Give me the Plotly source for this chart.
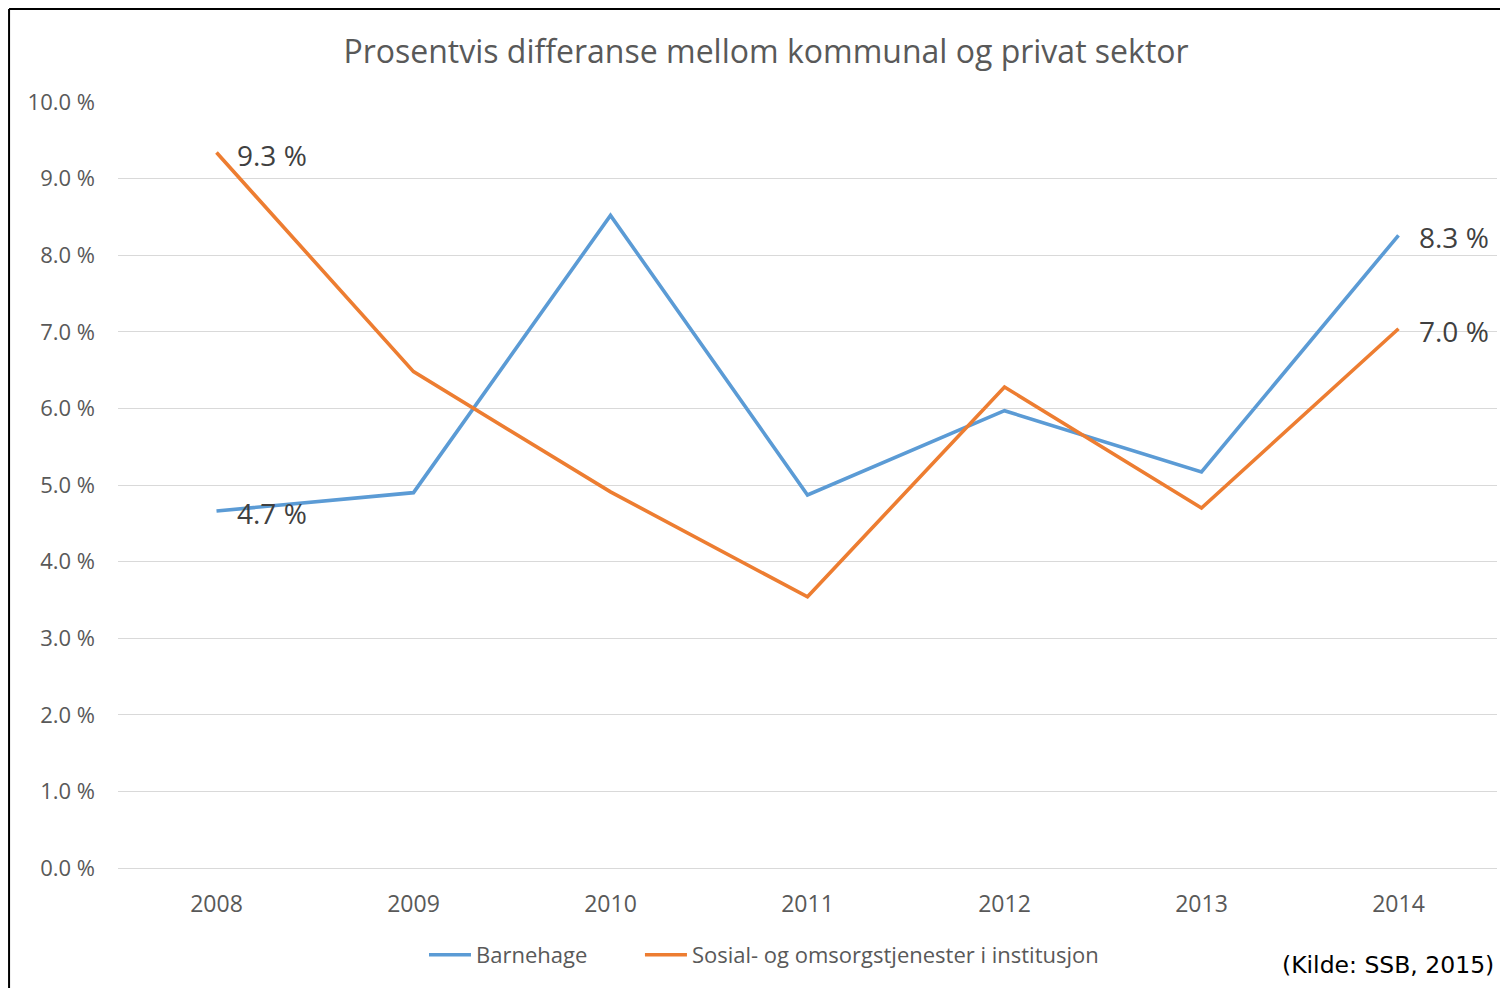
import plotly.graph_objects as go

years = ["2008", "2009", "2010", "2011", "2012", "2013", "2014"]
barnehage = [4.66, 4.90, 8.52, 4.87, 5.97, 5.17, 8.26]
sosial = [9.34, 6.48, 4.91, 3.54, 6.28, 4.70, 7.04]
series_names = ["Barnehage", "Sosial- og omsorgstjenester i institusjon"]
title_text = "Prosentvis differanse mellom kommunal og privat sektor"
source_text = "(Kilde: SSB, 2015)"

BLUE = "#5B9BD5"
ORANGE = "#ED7D31"
FONT = "Open Sans"

fig = go.Figure()
fig.add_trace(go.Scatter(x=years, y=barnehage, mode="lines", name=series_names[0],
                         line=dict(color=BLUE, width=3.6), legend="legend"))
fig.add_trace(go.Scatter(x=years, y=sosial, mode="lines", name=series_names[1],
                         line=dict(color=ORANGE, width=3.6), legend="legend2"))

# data labels at first and last points (category index positions)
for series in (barnehage, sosial):
    for idx in (0, len(years) - 1):
        fig.add_annotation(x=idx, y=series[idx], text=f"{series[idx]:.1f} %",
                           showarrow=False, xanchor="left", yanchor="middle", xshift=18,
                           yshift=-2,
                           font=dict(family=FONT, size=28, color="#404040"))

fig.add_annotation(xref="paper", yref="paper", x=0.9993, y=-0.1266, text=source_text,
                   showarrow=False, xanchor="right", yanchor="middle",
                   font=dict(family="DejaVu Sans", size=23.5, color="#000000"))

# border (left and top)
fig.add_shape(type="line", xref="paper", yref="paper", x0=-0.079, x1=-0.079, y0=-0.2, y1=1.1214,
              line=dict(color="#000000", width=2))
fig.add_shape(type="line", xref="paper", yref="paper", x0=-0.079, x1=1.01, y0=1.1214, y1=1.1214,
              line=dict(color="#000000", width=2))

legend_style = dict(orientation="h", xanchor="left", y=-0.1136, yanchor="middle",
                    font=dict(family=FONT, size=22, color="#595959"), itemwidth=42,
                    bgcolor="rgba(0,0,0,0)")

fig.update_layout(
    width=1500, height=980,
    margin=dict(l=110, r=11, t=94, b=120),
    paper_bgcolor="white", plot_bgcolor="white",
    title=dict(text=title_text, x=758 / 1500, xanchor="center", y=1 - 44 / 980, yanchor="middle",
               font=dict(family=FONT, size=32, color="#595959")),
    showlegend=True,
    legend=dict(x=0.2219, **legend_style),
    legend2=dict(x=0.3785, **legend_style),
    font=dict(family=FONT),
)
fig.update_xaxes(type="category", categoryorder="array", categoryarray=years,
                 range=[-0.5, len(years) - 0.5], autorange=False,
                 showgrid=False, showline=False, zeroline=False, ticks="",
                 tickfont=dict(family=FONT, size=23, color="#595959"), ticklabelstandoff=20)
fig.update_yaxes(range=[0, 10], dtick=1, tickformat=".1f", ticksuffix=" %",
                 showgrid=True, gridcolor="#D9D9D9", gridwidth=1, zeroline=True,
                 zerolinecolor="#D9D9D9", zerolinewidth=1, showline=False, ticks="",
                 tickfont=dict(family=FONT, size=22, color="#595959"), ticklabelstandoff=22)

fig.write_html("out.html")
